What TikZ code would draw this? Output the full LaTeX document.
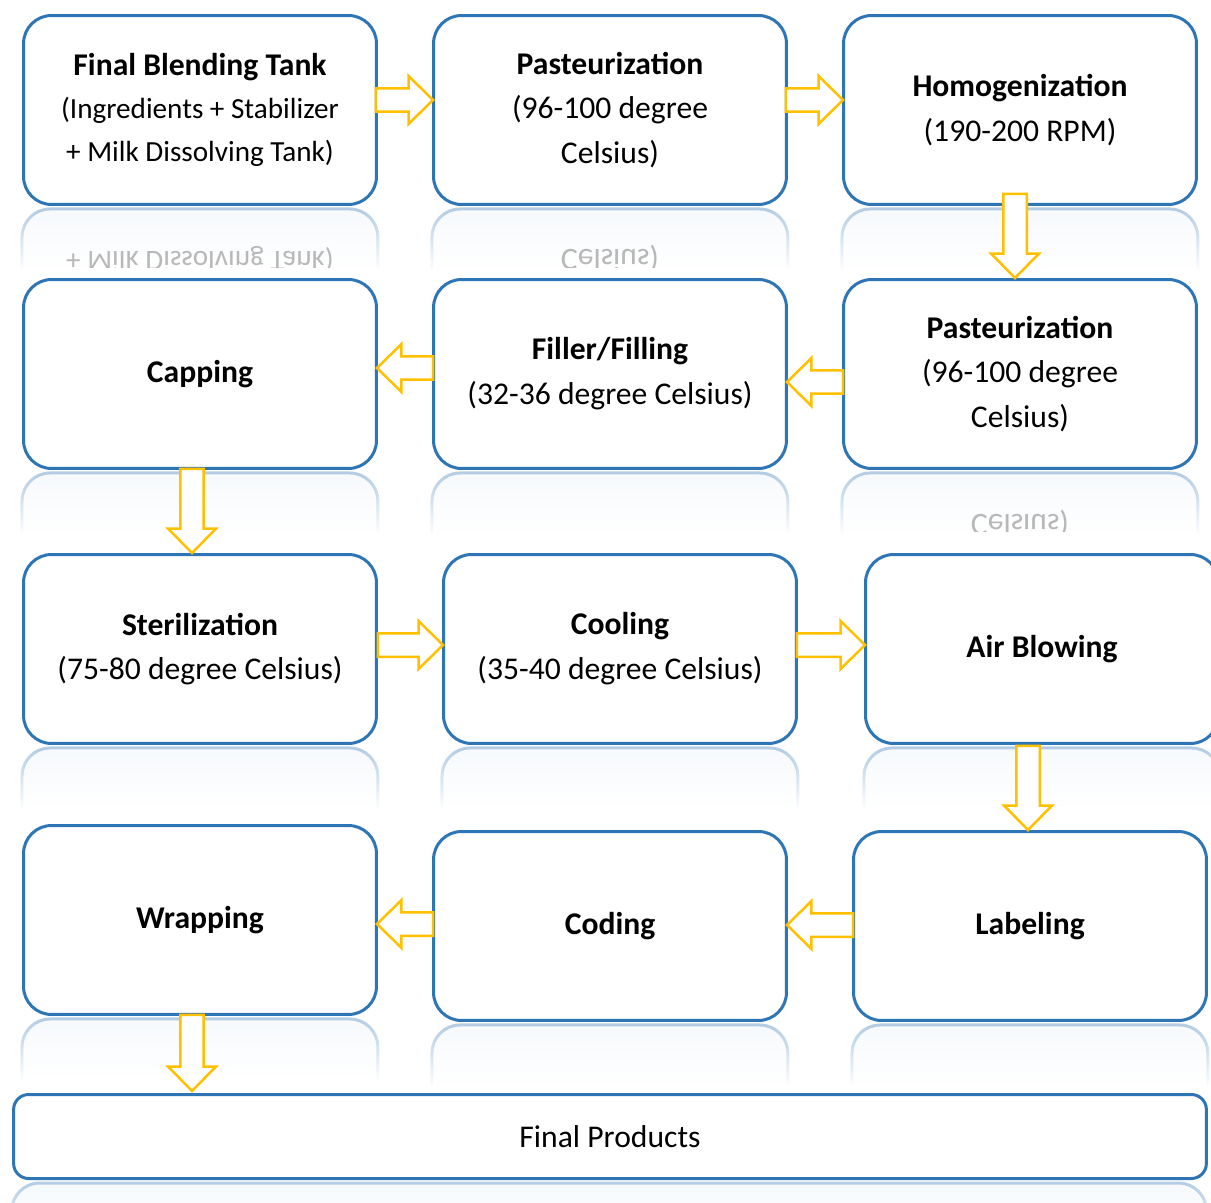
\documentclass[tikz,border=0pt]{standalone}
\usepackage{fontspec}
\setmainfont{Carlito}
\usetikzlibrary{calc,fadings}
\definecolor{boxblue}{RGB}{46,117,182}
\definecolor{flowgold}{RGB}{255,192,0}
\tikzfading[name=reflfade, top color=transparent!40, bottom color=transparent!100]
\newcommand{\flowarrow}[2]{%
  \coordinate (fa-h) at ($(#2)!0.49cm!(#1)$);
  \draw[flow] ($(#1)!0.235cm!90:(#2)$) -- ($(fa-h)!0.235cm!-90:(#1)$) -- ($(fa-h)!0.48cm!-90:(#1)$)
    -- (#2) -- ($(fa-h)!0.48cm!90:(#1)$) -- ($(fa-h)!0.235cm!90:(#1)$) -- ($(#1)!0.235cm!-90:(#2)$) -- cycle;}
\newcommand{\boxmirror}[1]{%
  \draw[refl] ($(#1.south west)+(0,64)$) |- ($(#1.south east)+(0,3)$) -- ($(#1.south east)+(0,64)$);}

\begin{document}
\begin{tikzpicture}[x=0.02cm, y=-0.02cm,
  proc/.style={draw=boxblue, line width=0.06cm, rounded corners=0.56cm, fill=white, minimum width=7.06cm, minimum height=3.78cm, align=center, inner sep=2pt, font=\fontsize{18}{25.5}\selectfont},
  endbox/.style={proc, rounded corners=0.3cm, minimum width=23.86cm, minimum height=1.68cm},
  flow/.style={draw=flowgold, line width=0.05cm, fill=white, line join=miter},
  refl/.style={draw=boxblue!60, fill=boxblue!7, line width=0.06cm, rounded corners=0.56cm, path fading=reflfade},
  mirror/.style={text=black!28, yscale=-1, inner sep=0pt}
]
\useasboundingbox (0,0) rectangle (1211,1203);

\node[proc, font=\fontsize{16.6}{24.4}\selectfont] (blend) at (200,110) {{\fontsize{18}{24.4}\selectfont\bfseries Final Blending Tank}\\(Ingredients + Stabilizer\\+ Milk Dissolving Tank)};
\node[proc] (past1) at (610,110) {\textbf{Pasteurization}\\(96-100 degree\\Celsius)};
\node[proc] (homog) at (1020,110) {\textbf{Homogenization}\\(190-200 RPM)};
\node[proc] (past2) at (1020,374) {\textbf{Pasteurization}\\(96-100 degree\\Celsius)};
\node[proc] (filler) at (610,374) {\textbf{Filler/Filling}\\(32-36 degree Celsius)};
\node[proc] (capping) at (200,374) {\textbf{Capping}};
\node[proc] (steril) at (200,649) {\textbf{Sterilization}\\(75-80 degree Celsius)};
\node[proc] (cooling) at (620,649) {\textbf{Cooling}\\(35-40 degree Celsius)};
\node[proc] (air) at (1042,649) {\textbf{Air Blowing}};
\node[proc] (labeling) at (1030,926) {\textbf{Labeling}};
\node[proc] (coding) at (610,926) {\textbf{Coding}};
\node[proc] (wrapping) at (200,920) {\textbf{Wrapping}};
\node[endbox] (final) at (610,1136.5) {Final Products};

\foreach \b in {blend,past1,homog,past2,filler,capping,steril,cooling,air,labeling,coding,wrapping,final}
  \boxmirror{\b};

\begin{scope}
  \clip ($(blend.south west)+(0,4)$) rectangle ($(past1.south east)+(0,62)$);
  \node[mirror, font=\fontsize{16.6}{24.4}\selectfont] (blend-m) at ($(blend.south)+(0,54)$) {+ Milk Dissolving Tank)};
  \node[mirror, font=\fontsize{18}{25.5}\selectfont] (past1-m) at ($(past1.south)+(0,53)$) {Celsius)};
\end{scope}
\begin{scope}
  \clip ($(past2.south west)+(0,4)$) rectangle ($(past2.south east)+(0,62)$);
  \node[mirror, font=\fontsize{18}{25.5}\selectfont] (past2-m) at ($(past2.south)+(0,54)$) {Celsius)};
\end{scope}

\coordinate (wr-out) at ($(wrapping.south)+(-8,-1)$);
\coordinate (air-out) at ($(air.south)+(-14,1)$);
\coordinate (cap-out) at ($(capping.south)+(-8,-1)$);
\coordinate (hom-out) at ($(homog.south)+(-5,-12)$);

\flowarrow{$(blend.east)+(-2,-10)$}{$(past1.west)+(1,-10)$}
\flowarrow{$(past1.east)+(-2,-10)$}{$(homog.west)+(1,-10)$}
\flowarrow{hom-out}{hom-out |- past2.north}
\flowarrow{$(past2.west)+(1,8)$}{$(filler.east)+(-1,8)$}
\flowarrow{$(filler.west)+(1,-6)$}{$(capping.east)+(-1,-6)$}
\flowarrow{cap-out}{cap-out |- steril.north}
\flowarrow{$(steril.east)+(0,-4)$}{$(cooling.west)+(1,-4)$}
\flowarrow{$(cooling.east)+(-1,-4)$}{$(air.west)+(1,-4)$}
\flowarrow{air-out}{air-out |- labeling.north}
\flowarrow{$(labeling.west)+(1,-1)$}{$(coding.east)+(-1,-1)$}
\flowarrow{$(coding.west)+(1,-2)$}{$(wrapping.east)+(-1,4)$}
\flowarrow{wr-out}{$(wr-out |- final.north)+(0,-2)$}
\end{tikzpicture}
\end{document}
